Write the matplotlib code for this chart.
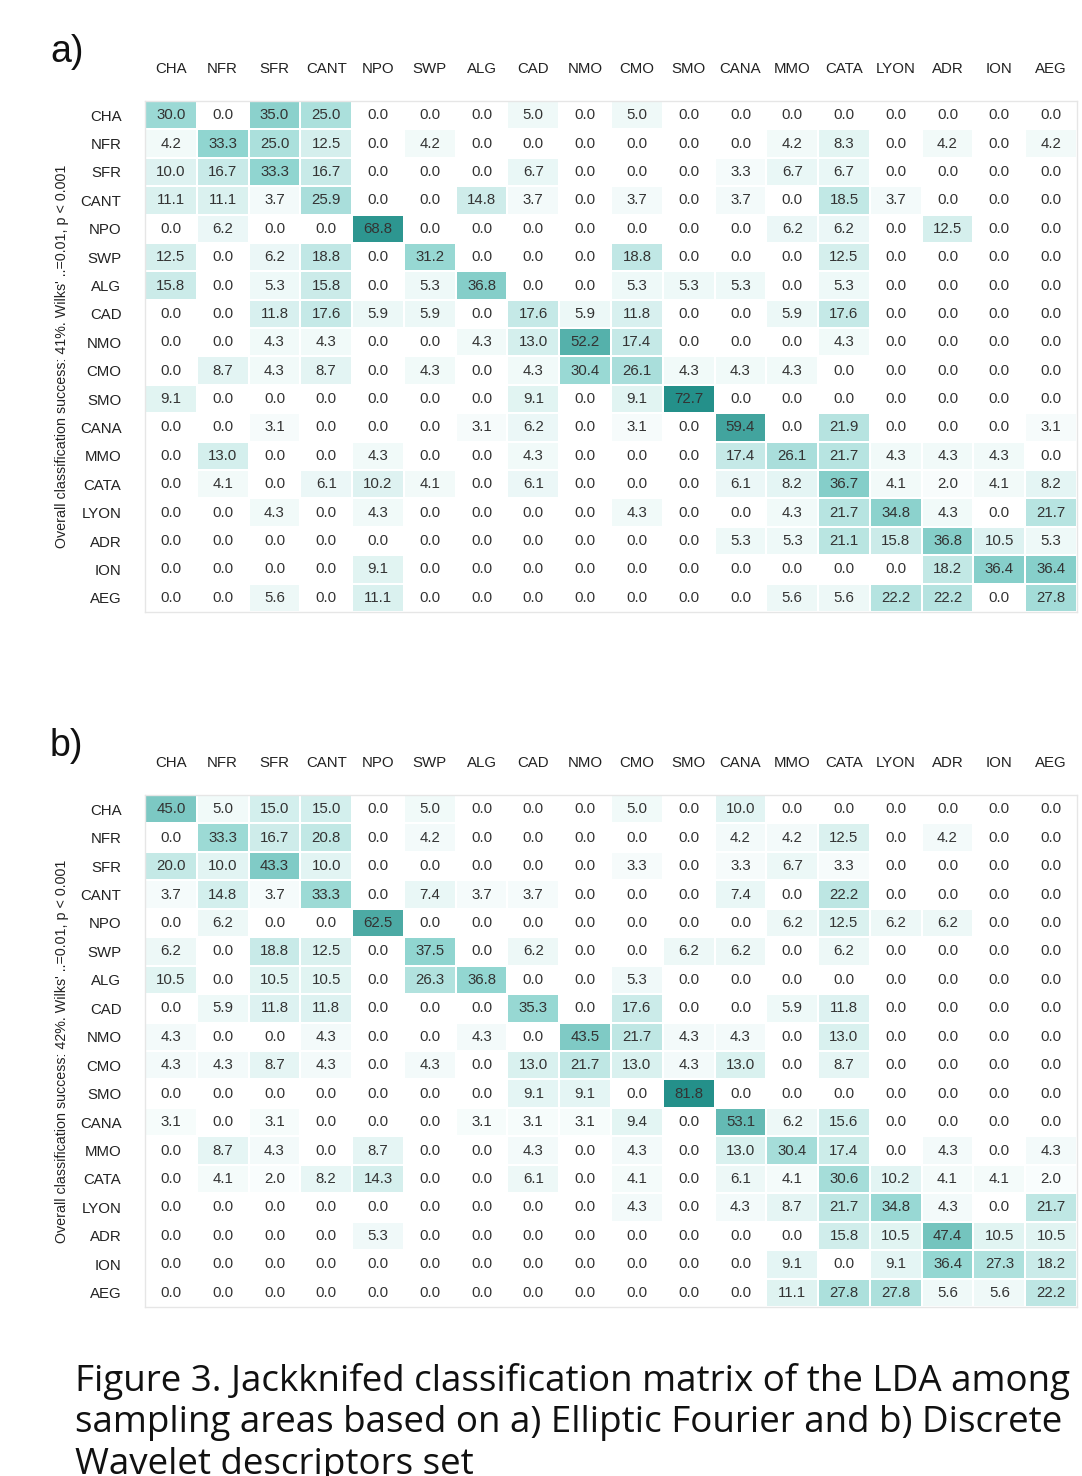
import matplotlib
matplotlib.use("Agg")
import matplotlib.pyplot as plt
import numpy as np
from matplotlib.colors import LinearSegmentedColormap

plt.rcParams['font.family'] = ['Liberation Sans', 'DejaVu Sans']

areas = ["CHA", "NFR", "SFR", "CANT", "NPO", "SWP", "ALG", "CAD", "NMO",
         "CMO", "SMO", "CANA", "MMO", "CATA", "LYON", "ADR", "ION", "AEG"]

# a) Elliptic Fourier
efa = [
    [30.0, 0.0, 35.0, 25.0, 0.0, 0.0, 0.0, 5.0, 0.0, 5.0, 0.0, 0.0, 0.0, 0.0, 0.0, 0.0, 0.0, 0.0],
    [4.2, 33.3, 25.0, 12.5, 0.0, 4.2, 0.0, 0.0, 0.0, 0.0, 0.0, 0.0, 4.2, 8.3, 0.0, 4.2, 0.0, 4.2],
    [10.0, 16.7, 33.3, 16.7, 0.0, 0.0, 0.0, 6.7, 0.0, 0.0, 0.0, 3.3, 6.7, 6.7, 0.0, 0.0, 0.0, 0.0],
    [11.1, 11.1, 3.7, 25.9, 0.0, 0.0, 14.8, 3.7, 0.0, 3.7, 0.0, 3.7, 0.0, 18.5, 3.7, 0.0, 0.0, 0.0],
    [0.0, 6.2, 0.0, 0.0, 68.8, 0.0, 0.0, 0.0, 0.0, 0.0, 0.0, 0.0, 6.2, 6.2, 0.0, 12.5, 0.0, 0.0],
    [12.5, 0.0, 6.2, 18.8, 0.0, 31.2, 0.0, 0.0, 0.0, 18.8, 0.0, 0.0, 0.0, 12.5, 0.0, 0.0, 0.0, 0.0],
    [15.8, 0.0, 5.3, 15.8, 0.0, 5.3, 36.8, 0.0, 0.0, 5.3, 5.3, 5.3, 0.0, 5.3, 0.0, 0.0, 0.0, 0.0],
    [0.0, 0.0, 11.8, 17.6, 5.9, 5.9, 0.0, 17.6, 5.9, 11.8, 0.0, 0.0, 5.9, 17.6, 0.0, 0.0, 0.0, 0.0],
    [0.0, 0.0, 4.3, 4.3, 0.0, 0.0, 4.3, 13.0, 52.2, 17.4, 0.0, 0.0, 0.0, 4.3, 0.0, 0.0, 0.0, 0.0],
    [0.0, 8.7, 4.3, 8.7, 0.0, 4.3, 0.0, 4.3, 30.4, 26.1, 4.3, 4.3, 4.3, 0.0, 0.0, 0.0, 0.0, 0.0],
    [9.1, 0.0, 0.0, 0.0, 0.0, 0.0, 0.0, 9.1, 0.0, 9.1, 72.7, 0.0, 0.0, 0.0, 0.0, 0.0, 0.0, 0.0],
    [0.0, 0.0, 3.1, 0.0, 0.0, 0.0, 3.1, 6.2, 0.0, 3.1, 0.0, 59.4, 0.0, 21.9, 0.0, 0.0, 0.0, 3.1],
    [0.0, 13.0, 0.0, 0.0, 4.3, 0.0, 0.0, 4.3, 0.0, 0.0, 0.0, 17.4, 26.1, 21.7, 4.3, 4.3, 4.3, 0.0],
    [0.0, 4.1, 0.0, 6.1, 10.2, 4.1, 0.0, 6.1, 0.0, 0.0, 0.0, 6.1, 8.2, 36.7, 4.1, 2.0, 4.1, 8.2],
    [0.0, 0.0, 4.3, 0.0, 4.3, 0.0, 0.0, 0.0, 0.0, 4.3, 0.0, 0.0, 4.3, 21.7, 34.8, 4.3, 0.0, 21.7],
    [0.0, 0.0, 0.0, 0.0, 0.0, 0.0, 0.0, 0.0, 0.0, 0.0, 0.0, 5.3, 5.3, 21.1, 15.8, 36.8, 10.5, 5.3],
    [0.0, 0.0, 0.0, 0.0, 9.1, 0.0, 0.0, 0.0, 0.0, 0.0, 0.0, 0.0, 0.0, 0.0, 0.0, 18.2, 36.4, 36.4],
    [0.0, 0.0, 5.6, 0.0, 11.1, 0.0, 0.0, 0.0, 0.0, 0.0, 0.0, 0.0, 5.6, 5.6, 22.2, 22.2, 0.0, 27.8],
]

# b) Discrete Wavelet
dwt = [
    [45.0, 5.0, 15.0, 15.0, 0.0, 5.0, 0.0, 0.0, 0.0, 5.0, 0.0, 10.0, 0.0, 0.0, 0.0, 0.0, 0.0, 0.0],
    [0.0, 33.3, 16.7, 20.8, 0.0, 4.2, 0.0, 0.0, 0.0, 0.0, 0.0, 4.2, 4.2, 12.5, 0.0, 4.2, 0.0, 0.0],
    [20.0, 10.0, 43.3, 10.0, 0.0, 0.0, 0.0, 0.0, 0.0, 3.3, 0.0, 3.3, 6.7, 3.3, 0.0, 0.0, 0.0, 0.0],
    [3.7, 14.8, 3.7, 33.3, 0.0, 7.4, 3.7, 3.7, 0.0, 0.0, 0.0, 7.4, 0.0, 22.2, 0.0, 0.0, 0.0, 0.0],
    [0.0, 6.2, 0.0, 0.0, 62.5, 0.0, 0.0, 0.0, 0.0, 0.0, 0.0, 0.0, 6.2, 12.5, 6.2, 6.2, 0.0, 0.0],
    [6.2, 0.0, 18.8, 12.5, 0.0, 37.5, 0.0, 6.2, 0.0, 0.0, 6.2, 6.2, 0.0, 6.2, 0.0, 0.0, 0.0, 0.0],
    [10.5, 0.0, 10.5, 10.5, 0.0, 26.3, 36.8, 0.0, 0.0, 5.3, 0.0, 0.0, 0.0, 0.0, 0.0, 0.0, 0.0, 0.0],
    [0.0, 5.9, 11.8, 11.8, 0.0, 0.0, 0.0, 35.3, 0.0, 17.6, 0.0, 0.0, 5.9, 11.8, 0.0, 0.0, 0.0, 0.0],
    [4.3, 0.0, 0.0, 4.3, 0.0, 0.0, 4.3, 0.0, 43.5, 21.7, 4.3, 4.3, 0.0, 13.0, 0.0, 0.0, 0.0, 0.0],
    [4.3, 4.3, 8.7, 4.3, 0.0, 4.3, 0.0, 13.0, 21.7, 13.0, 4.3, 13.0, 0.0, 8.7, 0.0, 0.0, 0.0, 0.0],
    [0.0, 0.0, 0.0, 0.0, 0.0, 0.0, 0.0, 9.1, 9.1, 0.0, 81.8, 0.0, 0.0, 0.0, 0.0, 0.0, 0.0, 0.0],
    [3.1, 0.0, 3.1, 0.0, 0.0, 0.0, 3.1, 3.1, 3.1, 9.4, 0.0, 53.1, 6.2, 15.6, 0.0, 0.0, 0.0, 0.0],
    [0.0, 8.7, 4.3, 0.0, 8.7, 0.0, 0.0, 4.3, 0.0, 4.3, 0.0, 13.0, 30.4, 17.4, 0.0, 4.3, 0.0, 4.3],
    [0.0, 4.1, 2.0, 8.2, 14.3, 0.0, 0.0, 6.1, 0.0, 4.1, 0.0, 6.1, 4.1, 30.6, 10.2, 4.1, 4.1, 2.0],
    [0.0, 0.0, 0.0, 0.0, 0.0, 0.0, 0.0, 0.0, 0.0, 4.3, 0.0, 4.3, 8.7, 21.7, 34.8, 4.3, 0.0, 21.7],
    [0.0, 0.0, 0.0, 0.0, 5.3, 0.0, 0.0, 0.0, 0.0, 0.0, 0.0, 0.0, 0.0, 15.8, 10.5, 47.4, 10.5, 10.5],
    [0.0, 0.0, 0.0, 0.0, 0.0, 0.0, 0.0, 0.0, 0.0, 0.0, 0.0, 0.0, 9.1, 0.0, 9.1, 36.4, 27.3, 18.2],
    [0.0, 0.0, 0.0, 0.0, 0.0, 0.0, 0.0, 0.0, 0.0, 0.0, 0.0, 0.0, 11.1, 27.8, 27.8, 5.6, 5.6, 22.2],
]

ylabels = ["Overall classification success: 41%. Wilks' ..=0.01, p < 0.001",
           "Overall classification success: 42%. Wilks' ..=0.01, p < 0.001"]
caption = ("Figure 3. Jackknifed classification matrix of the LDA among\n"
           "sampling areas based on a) Elliptic Fourier and b) Discrete\n"
           "Wavelet descriptors set")

cmap = LinearSegmentedColormap.from_list(
    "teal", [(0, "#ffffff"), (0.45, "#92d6d1"), (0.75, "#4eaca6"), (1, "#24908a")])

W, H = 1082, 1476
fig = plt.figure(figsize=(W / 100, H / 100), dpi=100)


def draw(ax, data, ylab):
    m = np.array(data)
    n = len(areas)
    ax.pcolormesh(np.arange(n + 1), np.arange(n + 1), m, cmap=cmap,
                  vmin=0, vmax=m.max(), edgecolors="white", linewidth=1.2)
    ax.set_xlim(0, n)
    ax.set_ylim(n, 0)
    for i in range(n):
        for j in range(n):
            ax.text(j + 0.5, i + 0.5, f"{m[i, j]:.1f}", ha="center", va="center",
                    fontsize=10.8, color="#333333")
    ax.xaxis.tick_top()
    ax.set_xticks(np.arange(n) + 0.5)
    ax.set_xticklabels(areas, fontsize=10.8, color="#222222")
    ax.set_yticks(np.arange(n) + 0.5)
    ax.set_yticklabels(areas, fontsize=10.8, color="#222222")
    ax.tick_params(axis="x", length=0, pad=18)
    ax.tick_params(axis="y", length=0, pad=17)
    for s in ax.spines.values():
        s.set_color("#e6e6e6")
        s.set_linewidth(1.0)
    ax.set_ylabel(ylab, fontsize=10.3, color="#222222", labelpad=8)


ax_a = fig.add_axes([145 / W, 1 - 612 / H, 932 / W, 511 / H])
draw(ax_a, efa, ylabels[0])
ax_b = fig.add_axes([145 / W, 1 - 1307 / H, 932 / W, 512 / H])
draw(ax_b, dwt, ylabels[1])

fig.text(50 / W, 1 - 52 / H, "a)", fontsize=27, va="center", ha="left", color="#111111")
fig.text(50 / W, 1 - 746 / H, "b)", fontsize=27, va="center", ha="left", color="#111111")

fig.text(75 / W, 1 - 1363 / H, caption, fontsize=26.5, va="top", ha="left",
         family=["Open Sans", "DejaVu Sans"], color="#111111", linespacing=1.2)

fig.savefig("out.png", dpi=100)
